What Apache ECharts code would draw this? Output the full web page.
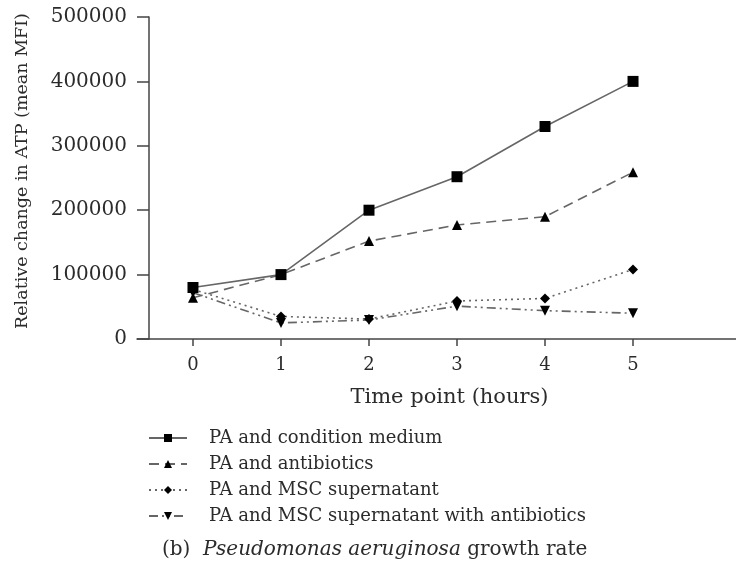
<!DOCTYPE html>
<html><head><meta charset="utf-8">
<script src="https://cdn.jsdelivr.net/npm/echarts@6/dist/echarts.min.js"></script>
<style>html,body{margin:0;padding:0;background:#fff}#c{width:736px;height:564px}</style>
</head><body><div id="c"></div>
<script>
var timePoints = [0, 1, 2, 3, 4, 5];
var yTicks = [0, 100000, 200000, 300000, 400000, 500000];
var seriesNames = ['PA and condition medium', 'PA and antibiotics', 'PA and MSC supernatant', 'PA and MSC supernatant with antibiotics'];
var conditionMedium = [80000, 100000, 200000, 252000, 330000, 400000];
var antibiotics = [64000, 100000, 152000, 177000, 190000, 259000];
var mscSupernatant = [77000, 35000, 31000, 59000, 63000, 108000];
var mscAntibiotics = [72000, 25000, 29500, 51000, 44000, 40000];

function pairs(vals){ return timePoints.map(function(t,i){ return [t, vals[i]]; }); }
var font = 'DejaVu Serif';
var txt = '#2b2b2b';
var styles = [
  {type:'solid', symbol:'rect', size:11, rot:0},
  {type:[10,6], symbol:'triangle', size:10, rot:0},
  {type:[2,4], symbol:'diamond', size:10, rot:0},
  {type:[9,4,2,4,2,4], symbol:'triangle', size:10, rot:180}
];
var allVals = [conditionMedium, antibiotics, mscSupernatant, mscAntibiotics];
var series = allVals.map(function(v,i){
  var s = styles[i];
  return {
    name: seriesNames[i], type:'line', data: pairs(v),
    symbol: s.symbol, symbolSize: s.size, symbolRotate: s.rot,
    itemStyle:{color:'#000'},
    lineStyle:{color:'#666', width:1.6, type:s.type},
    z: 10-i, animation:false
  };
});
var chart = echarts.init(document.getElementById('c'));
chart.setOption({
  animation:false,
  grid:{left:137, right:0, top:17, bottom:225, containLabel:false},
  xAxis:{
    type:'value', min:-0.636, max:6.17,
    axisLine:{show:true, onZero:false, lineStyle:{color:'#444', width:1.5}},
    axisTick:{show:true, length:7, inside:false, customValues: timePoints, lineStyle:{color:'#444', width:1.5}},
    axisLabel:{customValues: timePoints, fontFamily:font, fontSize:18, color:txt, margin:17},
    splitLine:{show:false},
    name:'Time point (hours)', nameLocation:'middle', nameGap:48,
    nameTextStyle:{fontFamily:font, fontSize:21, color:txt, padding:[0,0,0,26]}
  },
  yAxis:{
    type:'value', min:0, max:500000, interval:100000, offset:-12,
    axisLine:{show:true, onZero:false, lineStyle:{color:'#444', width:1.5}},
    axisTick:{show:true, length:12, lineStyle:{color:'#444', width:1.5}},
    axisLabel:{fontFamily:font, fontSize:20, color:txt, margin:22, formatter:function(v){return String(v);}},
    splitLine:{show:false},
    name:'Relative change in ATP (mean MFI)', nameLocation:'middle', nameGap:118,
    nameTextStyle:{fontFamily:font, fontSize:17.5, color:txt, padding:[0,0,0,14]}
  },
  legend:{
    orient:'vertical', left:143, top:424, itemGap:8, itemWidth:38, itemHeight:10,
    data: seriesNames,
    textStyle:{fontFamily:font, fontSize:18, color:txt, padding:[0,0,0,17]}
  },
  title:{
    text:'{n|(b)  }{i|Pseudomonas aeruginosa}{n| growth rate}',
    left:157, top:535,
    textStyle:{rich:{
      n:{fontFamily:font, fontSize:20, color:txt, fontWeight:'normal'},
      i:{fontFamily:font, fontSize:20, color:txt, fontStyle:'italic', fontWeight:'normal'}
    }}
  },
  series: series
});
</script></body></html>
